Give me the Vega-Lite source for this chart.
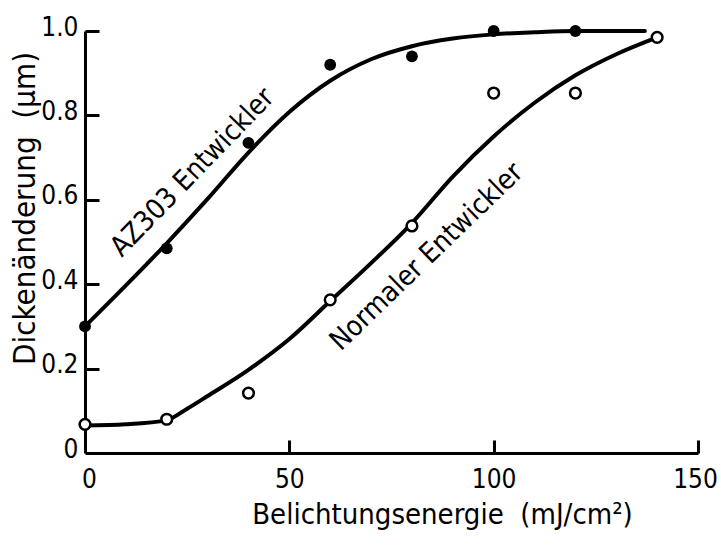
{
  "$schema": "https://vega.github.io/schema/vega-lite/v6.json",
  "width": 613,
  "height": 422,
  "autosize": {"type": "none"},
  "padding": {"left": 85, "top": 31, "right": 23, "bottom": 95},
  "background": "white",
  "config": {
    "view": {"stroke": null},
    "axis": {
      "grid": false,
      "domainColor": "black",
      "domainWidth": 3,
      "ticks": false,
      "labelColor": "black",
      "labelFont": "DejaVu Sans Condensed, sans-serif",
      "labelFontSize": 26,
      "titleColor": "black",
      "titleFont": "DejaVu Sans Condensed, sans-serif",
      "titleFontWeight": "normal"
    }
  },
  "resolve": {"axis": {"x": "independent", "y": "independent"}},
  "datasets": {
    "points": [
      {"serie": "AZ303", "energie": 0, "dicke": 0.30},
      {"serie": "AZ303", "energie": 20, "dicke": 0.485},
      {"serie": "AZ303", "energie": 40, "dicke": 0.735},
      {"serie": "AZ303", "energie": 60, "dicke": 0.92},
      {"serie": "AZ303", "energie": 80, "dicke": 0.94},
      {"serie": "AZ303", "energie": 100, "dicke": 1.0},
      {"serie": "AZ303", "energie": 120, "dicke": 1.0},
      {"serie": "Normal", "energie": 0, "dicke": 0.068},
      {"serie": "Normal", "energie": 20, "dicke": 0.08},
      {"serie": "Normal", "energie": 40, "dicke": 0.142},
      {"serie": "Normal", "energie": 60, "dicke": 0.363},
      {"serie": "Normal", "energie": 80, "dicke": 0.538},
      {"serie": "Normal", "energie": 100, "dicke": 0.853},
      {"serie": "Normal", "energie": 120, "dicke": 0.853},
      {"serie": "Normal", "energie": 140, "dicke": 0.985}
    ],
    "curves": [
      {"serie": "AZ303", "energie": 0, "dicke": 0.30},
      {"serie": "AZ303", "energie": 10, "dicke": 0.397},
      {"serie": "AZ303", "energie": 20, "dicke": 0.497},
      {"serie": "AZ303", "energie": 30, "dicke": 0.602},
      {"serie": "AZ303", "energie": 40, "dicke": 0.712},
      {"serie": "AZ303", "energie": 50, "dicke": 0.808},
      {"serie": "AZ303", "energie": 60, "dicke": 0.882},
      {"serie": "AZ303", "energie": 70, "dicke": 0.933},
      {"serie": "AZ303", "energie": 80, "dicke": 0.964},
      {"serie": "AZ303", "energie": 90, "dicke": 0.982},
      {"serie": "AZ303", "energie": 100, "dicke": 0.992},
      {"serie": "AZ303", "energie": 110, "dicke": 0.997},
      {"serie": "AZ303", "energie": 120, "dicke": 1.0},
      {"serie": "AZ303", "energie": 137, "dicke": 1.0},
      {"serie": "Normal", "energie": 0, "dicke": 0.065},
      {"serie": "Normal", "energie": 10, "dicke": 0.068},
      {"serie": "Normal", "energie": 20, "dicke": 0.078},
      {"serie": "Normal", "energie": 25, "dicke": 0.105},
      {"serie": "Normal", "energie": 30, "dicke": 0.135},
      {"serie": "Normal", "energie": 40, "dicke": 0.197},
      {"serie": "Normal", "energie": 50, "dicke": 0.27},
      {"serie": "Normal", "energie": 60, "dicke": 0.36},
      {"serie": "Normal", "energie": 70, "dicke": 0.45},
      {"serie": "Normal", "energie": 80, "dicke": 0.545},
      {"serie": "Normal", "energie": 90, "dicke": 0.655},
      {"serie": "Normal", "energie": 100, "dicke": 0.75},
      {"serie": "Normal", "energie": 110, "dicke": 0.83},
      {"serie": "Normal", "energie": 120, "dicke": 0.895},
      {"serie": "Normal", "energie": 130, "dicke": 0.945},
      {"serie": "Normal", "energie": 140, "dicke": 0.985}
    ],
    "labels": [
      {"serie": "AZ303", "energie": 26.4, "dicke": 0.664, "text": "AZ303 Entwickler"},
      {"serie": "Normal", "energie": 83.7, "dicke": 0.464, "text": "Normaler Entwickler"}
    ]
  },
  "encoding": {
    "x": {
      "field": "energie",
      "type": "quantitative",
      "scale": {"domain": [0, 150], "nice": false, "zero": false},
      "axis": null
    },
    "y": {
      "field": "dicke",
      "type": "quantitative",
      "scale": {"domain": [0, 1], "nice": false, "zero": false},
      "axis": null
    }
  },
  "layer": [
    {
      "data": {"name": "curves"},
      "mark": {"type": "line", "color": "black", "strokeWidth": 4, "interpolate": "monotone", "strokeCap": "round"},
      "encoding": {
        "detail": {"field": "serie"},
        "x": {
          "field": "energie",
          "type": "quantitative",
          "scale": {"domain": [0, 150], "nice": false, "zero": false},
          "axis": {
            "values": [0, 50, 100, 150],
            "labelFlush": false,
            "labelPadding": 13,
            "labelOffset": {"condition": [{"test": "datum.value === 0", "value": 4}, {"test": "datum.value === 150", "value": -3}], "value": 0},
            "title": "Belichtungsenergie\u00a0 (mJ/cm²)",
            "titleFontSize": 29,
            "titleX": 357,
            "titleY": 70,
            "titleAlign": "center",
            "titleBaseline": "alphabetic"
          }
        },
        "y": {
          "field": "dicke",
          "type": "quantitative",
          "scale": {"domain": [0, 1], "nice": false, "zero": false},
          "axis": {
            "values": [0, 0.2, 0.4, 0.6, 0.8, 1.0],
            "labelExpr": "datum.value === 0 ? '0' : format(datum.value, '.1f')",
            "labelPadding": 7,
            "labelOffset": -4,
            "title": "Dickenänderung\u00a0 (µm)",
            "titleFontSize": 31,
            "titleAngle": -90,
            "titleX": -51,
            "titleY": 177,
            "titleAlign": "center",
            "titleBaseline": "alphabetic"
          }
        }
      }
    },
    {
      "data": {"name": "points"},
      "transform": [{"filter": "datum.serie === 'AZ303'"}],
      "mark": {"type": "point", "shape": "circle", "filled": true, "color": "black", "size": 140, "opacity": 1},
      "encoding": {
        "x": {
          "field": "energie",
          "type": "quantitative",
          "scale": {"domain": [0, 150], "nice": false, "zero": false},
          "axis": {
            "orient": "top",
            "offset": -422,
            "values": [50, 100, 150],
            "labels": false,
            "domain": false,
            "ticks": true,
            "tickSize": 13,
            "tickWidth": 3,
            "tickColor": "black",
            "title": null
          }
        },
        "y": {
          "field": "dicke",
          "type": "quantitative",
          "scale": {"domain": [0, 1], "nice": false, "zero": false},
          "axis": {
            "orient": "right",
            "offset": -613,
            "values": [0.2, 0.4, 0.6, 0.8, 1.0],
            "labels": false,
            "domain": false,
            "ticks": true,
            "tickSize": 14,
            "tickWidth": 3,
            "tickColor": "black",
            "title": null
          }
        }
      }
    },
    {
      "data": {"name": "points"},
      "transform": [{"filter": "datum.serie === 'Normal'"}],
      "mark": {"type": "point", "shape": "circle", "filled": false, "fill": "white", "fillOpacity": 1, "stroke": "black", "strokeWidth": 2.5, "size": 115, "opacity": 1}
    },
    {
      "data": {"name": "labels"},
      "transform": [{"filter": "datum.serie === 'AZ303'"}],
      "mark": {"type": "text", "angle": -46, "align": "center", "baseline": "middle", "font": "DejaVu Sans Condensed, sans-serif", "fontSize": 28, "color": "black"},
      "encoding": {"text": {"field": "text"}}
    },
    {
      "data": {"name": "labels"},
      "transform": [{"filter": "datum.serie === 'Normal'"}],
      "mark": {"type": "text", "angle": -44, "align": "center", "baseline": "middle", "font": "DejaVu Sans Condensed, sans-serif", "fontSize": 28, "color": "black"},
      "encoding": {"text": {"field": "text"}}
    }
  ]
}
